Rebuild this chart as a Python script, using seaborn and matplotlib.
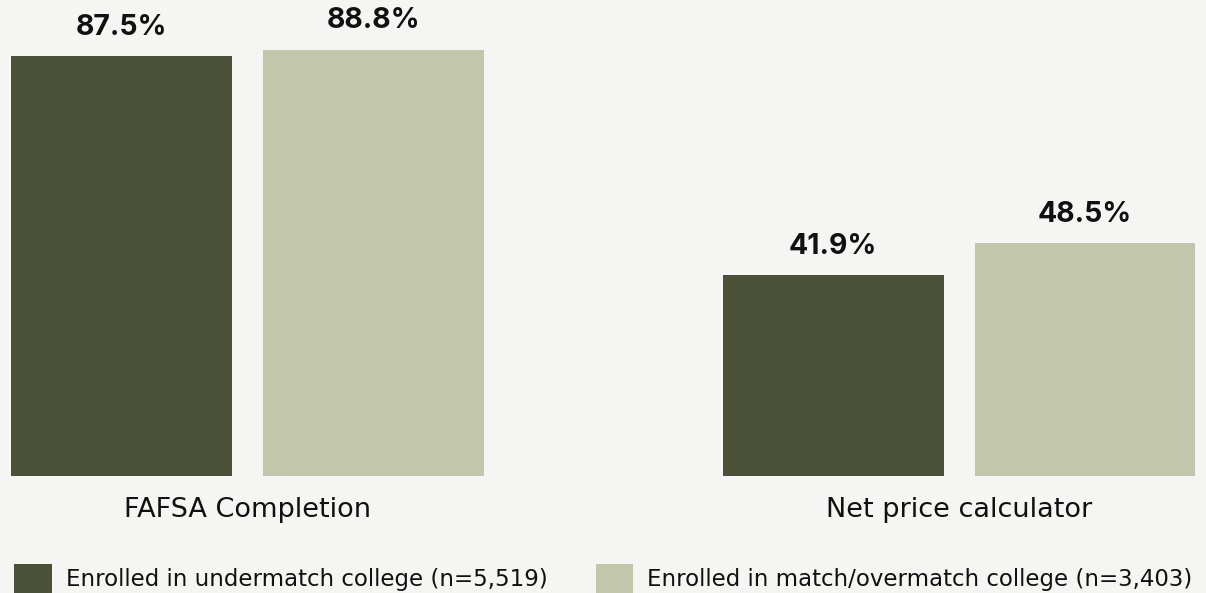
import matplotlib
matplotlib.use("Agg")
import matplotlib.pyplot as plt
import seaborn as sns
import pandas as pd

# Share of students using each resource, by college match group
measures = ["FAFSA Completion", "Net price calculator"]
groups = ["Enrolled in undermatch college (n=5,519)",
          "Enrolled in match/overmatch college (n=3,403)"]
undermatch = [87.5, 41.9]
match_overmatch = [88.8, 48.5]

df = pd.DataFrame({
    "measure": measures * 2,
    "group": [groups[0]] * 2 + [groups[1]] * 2,
    "pct": undermatch + match_overmatch,
})

BG = "#F5F5F3"
palette = {groups[0]: "#4B5137", groups[1]: "#C2C6AA"}

sns.set_theme(style="white")
plt.rcParams["font.family"] = ["DejaVu Sans"]

W, H = 1206, 593
fig = plt.figure(figsize=(W / 100, H / 100), dpi=100, facecolor=BG)
ax = fig.add_axes([0, 117 / H, 1, 476 / H])
ax.set_facecolor(BG)

sns.barplot(data=df, x="measure", y="pct", hue="group", order=measures,
            hue_order=groups, palette=palette, width=0.708, gap=0.123,
            saturation=1, errorbar=None, linewidth=0, ax=ax)

ax.set_xlim(-0.348, 1.347)
ax.set_ylim(0, 99.17)
for s in ax.spines.values():
    s.set_visible(False)
ax.set_yticks([])
ax.set_xlabel("")
ax.set_ylabel("")
ax.tick_params(axis="x", length=0, pad=15, labelsize=19.5, labelcolor="#111111")

for cont in ax.containers:
    labels = [f"{v:.1f}%" for v in cont.datavalues]
    ax.bar_label(cont, labels=labels, padding=11, fontsize=20.5,
                 fontweight="bold", family=["Inter", "DejaVu Sans"],
                 color="#111111")

sns.move_legend(ax, loc="center left", bbox_to_anchor=(14 / W, 14 / H),
                bbox_transform=fig.transFigure, ncol=2, frameon=False,
                title=None, fontsize=16.5, handlelength=1.64,
                handleheight=1.64, handletextpad=0.62, columnspacing=2.1,
                borderpad=0, borderaxespad=0)
leg = ax.get_legend()
for t in leg.get_texts():
    t.set_color("#111111")
for h in leg.legend_handles:
    h.set_linewidth(0)

fig.savefig("out.png", dpi=100, facecolor=BG)
